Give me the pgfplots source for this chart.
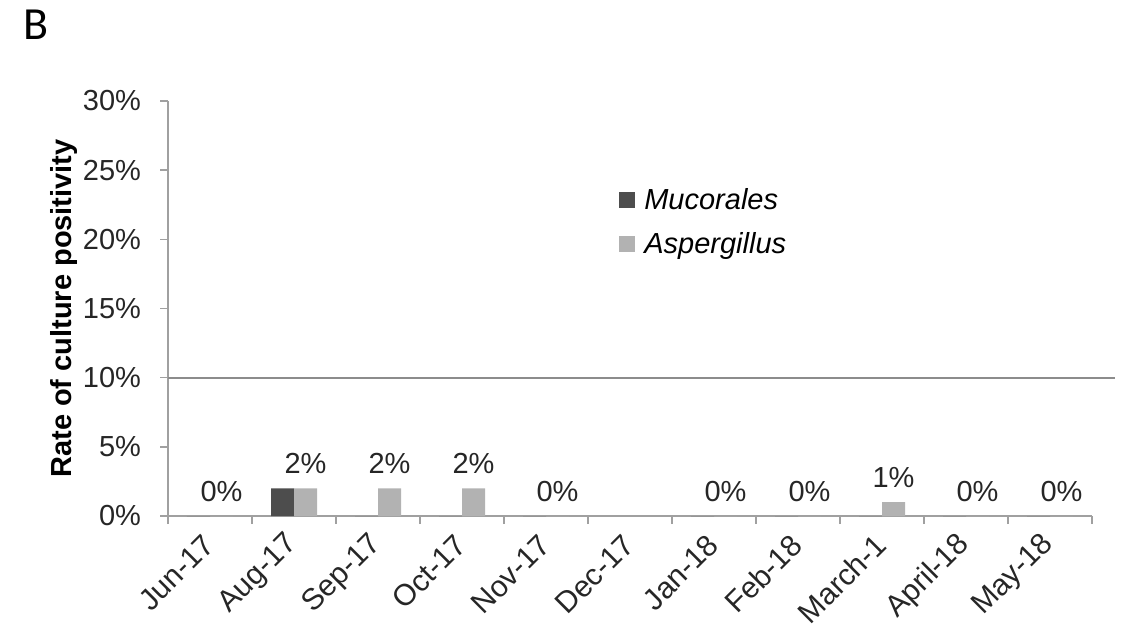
\documentclass[border=0pt]{standalone}
\usepackage{pgfplots}
\pgfplotsset{compat=1.18}
\usepackage{fontspec}
\setmainfont{Liberation Sans}
\newfontfamily\carlito{Carlito}
\definecolor{darkbar}{HTML}{4D4D4D}
\definecolor{lightbar}{HTML}{B2B2B2}
\definecolor{axisgray}{HTML}{A0A0A0}
\definecolor{linegray}{HTML}{8C8C8C}
\begin{document}
\begin{tikzpicture}
\useasboundingbox (0,0) rectangle (562pt,316.5pt);
\node[anchor=base west, inner sep=0pt, font=\carlito\fontsize{23}{26}\selectfont] at (11.5pt,296.5pt) {B};
\begin{axis}[
  at={(84pt,58.5pt)}, anchor=south west,
  scale only axis, width=462pt, height=207.5pt,
  xmin=-0.5, xmax=10.5, ymin=0, ymax=30,
  clip=false,
  /pgf/number format/assume math mode=true,
  axis lines=left,
  axis line style={-, axisgray, line width=1pt},
  tick align=outside,
  tick style={axisgray, line width=0.8pt},
  major tick length=4pt, minor tick length=4pt,
  xtick={0,...,10},
  xticklabels={Jun-17,Aug-17,Sep-17,Oct-17,Nov-17,Dec-17,Jan-18,Feb-18,March-1,April-18,May-18},
  major x tick style={draw=none},
  minor xtick={-0.5,0.5,...,10.5},
  ytick={0,5,...,30},
  yticklabels={0\%,5\%,10\%,15\%,20\%,25\%,30\%},
  ticklabel style={font=\fontsize{14.5}{17}\selectfont, text=black!85},
  xticklabel style={xshift=2pt, yshift=-5.5pt, rotate=45, anchor=east, font=\fontsize{15}{17}\selectfont},
  yticklabel style={xshift=-6pt},
  ylabel={Rate of culture positivity},
  ylabel style={font=\bfseries\fontsize{14.5}{17}\selectfont, at={(axis description cs:-0.1039,0.5)}, anchor=base},
  ybar=0pt, bar width=11.5pt,
  legend image code/.code={\fill[#1] (0pt,-4pt) rectangle (8pt,4pt);},
  legend style={at={(0.4815,0.81)}, anchor=north west, draw=none, fill=none,
    font=\itshape\fontsize{14.5}{17}\selectfont, row sep=6pt,
    /tikz/every odd column/.append style={column sep=2.5pt}},
  legend cell align=left,
]
\addplot[fill=darkbar, draw=none, bar shift=-5.75pt] coordinates {(0,0) (1,2) (2,0) (3,0) (4,0) (6,0) (7,0) (8,0) (9,0) (10,0)};
\addlegendentry{Mucorales}
\addplot[fill=lightbar, draw=none, bar shift=5.75pt,
  nodes near coords={\pgfmathprintnumber{\pgfplotspointmeta}\%},
  nodes near coords style={font=\fontsize{14.5}{17}\selectfont, text=black!85, anchor=base, inner sep=0pt, yshift=7.5pt}]
  coordinates {(0,0) (1,2) (2,2) (3,2) (4,0) (6,0) (7,0) (8,1) (9,0) (10,0)};
\addlegendentry{Aspergillus}
\draw[linegray, line width=1pt] (axis cs:-0.5,10) -- (axis cs:10.77,10);
\end{axis}
\end{tikzpicture}
\end{document}
